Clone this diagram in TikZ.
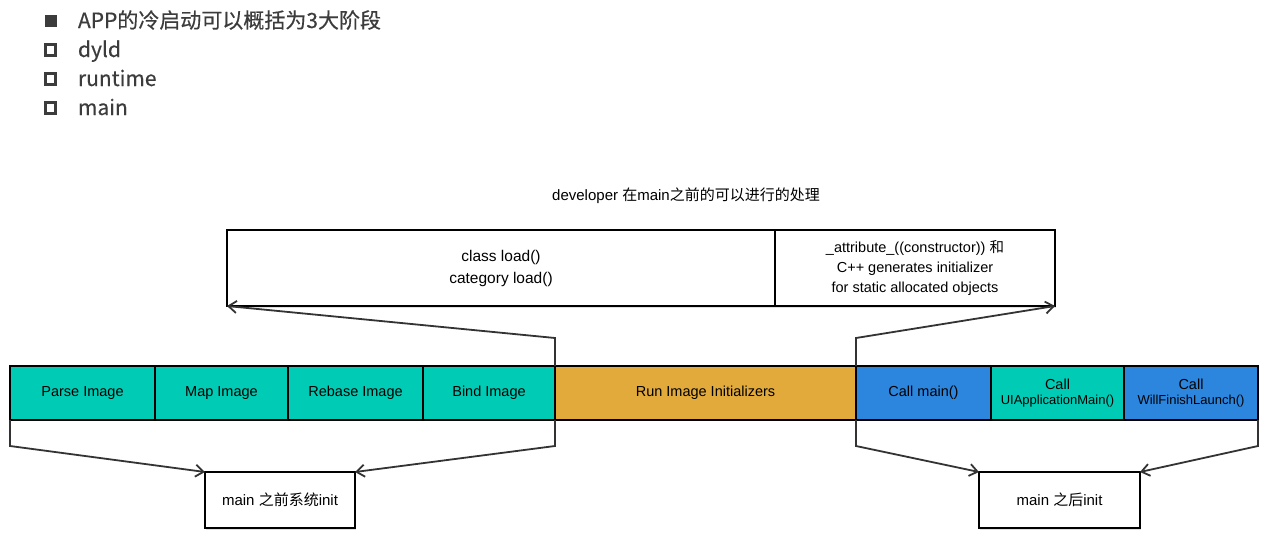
\documentclass[tikz,border=0pt]{standalone}
\usepackage{fontspec}
\setmainfont{Liberation Sans}
\newfontfamily\cjk{Noto Sans CJK SC}
\newfontfamily\cjkmedium[FakeBold=0.4]{Noto Sans CJK SC}
\usetikzlibrary{arrows,arrows.meta,shapes,positioning,shadows}

\definecolor{dyldteal}{RGB}{0,204,181}
\definecolor{initorange}{RGB}{226,170,58}
\definecolor{mainblue}{RGB}{44,134,222}
\definecolor{bulletgray}{RGB}{60,60,60}

\begin{document}
\begin{tikzpicture}[
        x=1pt, y=-1pt,
        node distance=0pt,
        every node/.style={inner sep=0pt, outer sep=0pt, align=center},
        phase/.style={draw, line width=1.6pt, minimum height=54pt, font=\fontsize{14.5}{16}\selectfont},
        dyldphase/.style={phase, fill=dyldteal},
        initphase/.style={phase, fill=initorange},
        mainphase/.style={phase, fill=mainblue},
        infobox/.style={draw, line width=2pt, fill=white, drop shadow={shadow xshift=1pt, shadow yshift=-2pt, opacity=0.25}},
        bracket/.style={draw=black!80, line width=1.8pt, -{Straight Barb[length=8pt,width=12pt]}},
        bullettext/.style={anchor=base west, text=bulletgray, font=\fontsize{21}{24}\selectfont\cjkmedium}
    ]
    \useasboundingbox (0,0) rectangle (1269,557);

    % Bullets
    \node[fill=bulletgray, minimum size=12pt] (b1) at (50.5,21) {};
    \node[bullettext] (t1) at (78,28) {APP的冷启动可以概括为3大阶段};
    \foreach \txt [count=\i from 2] in {dyld,runtime,main} {
        \node[draw=bulletgray, line width=3pt, minimum size=10.5pt] (b\i) at (50.5,{21+29*(\i-1)}) {};
        \node[bullettext] (t\i) at (78,{28+29*(\i-1)}) {\txt};
    }

    % Developer hooks
    \node[font=\fontsize{15}{18}\selectfont] (devtitle) at (686,196) {developer {\cjk 在}main{\cjk 之前的可以进行的处理}};
    \node[infobox, minimum width=548pt, minimum height=76pt, anchor=north west, font=\fontsize{15.5}{22}\selectfont] (loadbox) at (227,230) {class load()\\category load()};
    \node[infobox, minimum width=280pt, minimum height=76pt, right=of loadbox, font=\fontsize{14.5}{20}\selectfont] (ctorbox) {\_attribute\_((constructor)) {\cjk 和}\\C++ generates initializer\\for static allocated objects};

    % Launch phases
    \node[dyldphase, minimum width=145pt, anchor=north west] (parse) at (10,366) {Parse Image};
    \node[dyldphase, minimum width=133pt, right=of parse] (map) {Map Image};
    \node[dyldphase, minimum width=135pt, right=of map] (rebase) {Rebase Image};
    \node[dyldphase, minimum width=132pt, right=of rebase] (bind) {Bind Image};
    \node[initphase, minimum width=301pt, right=of bind] (run) {Run Image Initializers};
    \node[mainphase, minimum width=135pt, right=of run] (callmain) {Call main()};
    \node[dyldphase, minimum width=133pt, right=of callmain] (uiappmain) {Call\\[-1pt]{\fontsize{13}{15}\selectfont UIApplicationMain()}};
    \node[mainphase, minimum width=134pt, right=of uiappmain] (willfinish) {Call\\[-1pt]{\fontsize{13}{15}\selectfont WillFinishLaunch()}};

    % Init boxes
    \node[infobox, minimum width=150pt, minimum height=56pt, anchor=north west, font=\fontsize{15}{18}\selectfont] (beforeinit) at (205,472) {main {\cjk 之前系统}init};
    \node[infobox, minimum width=161pt, minimum height=56pt, anchor=north west, font=\fontsize{15}{18}\selectfont] (afterinit) at (979,472) {main {\cjk 之后}init};

    % Connectors
    \draw[bracket] (run.north west) -- ++(0,-28) -- (loadbox.south west);
    \draw[bracket] (callmain.north west) -- ++(0,-28) -- (ctorbox.south east);
    \draw[bracket] (parse.south west) -- ++(0,26) -- (beforeinit.north west);
    \draw[bracket] (bind.south east) -- ++(0,26) -- (beforeinit.north east);
    \draw[bracket] (callmain.south west) -- ++(0,26) -- (afterinit.north west);
    \draw[bracket] (willfinish.south east) -- ++(0,26) -- (afterinit.north east);
\end{tikzpicture}
\end{document}
